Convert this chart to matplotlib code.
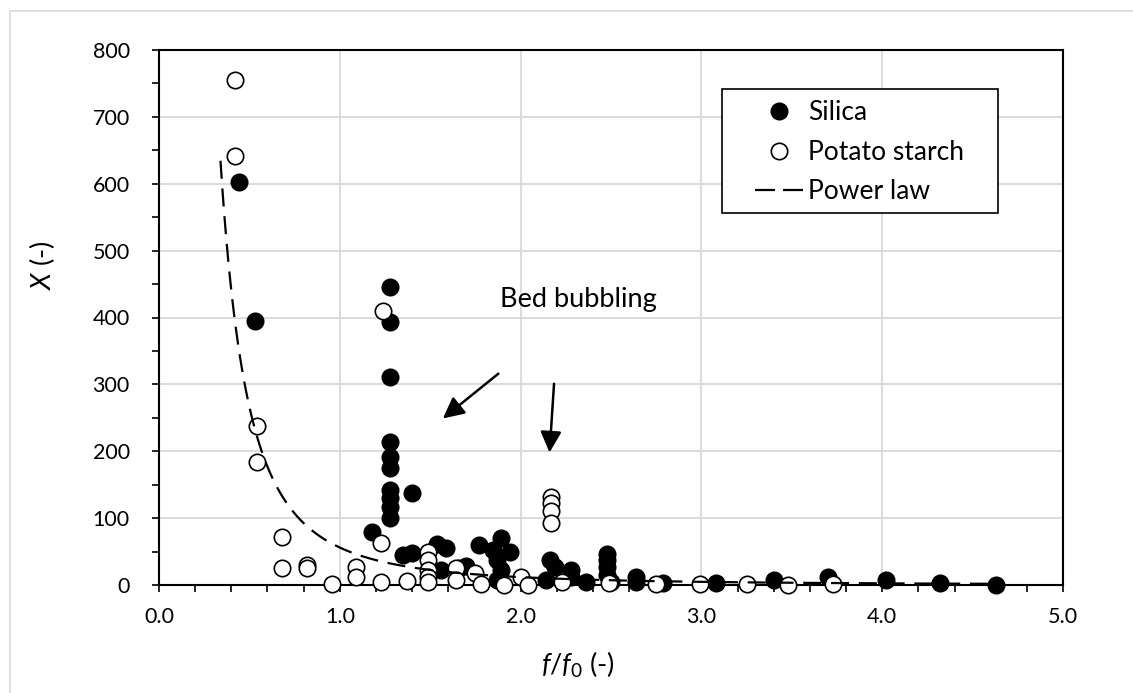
import matplotlib
matplotlib.use("Agg")
import matplotlib.pyplot as plt
import matplotlib.ticker as ticker
from matplotlib.lines import Line2D
from matplotlib.patches import Rectangle
import numpy as np

plt.rcParams['font.family'] = ['Lato', 'DejaVu Sans']
plt.rcParams['mathtext.fontset'] = 'custom'
plt.rcParams['mathtext.rm'] = 'Lato'
plt.rcParams['mathtext.it'] = 'Lato:italic'
plt.rcParams['lines.scale_dashes'] = False

# silica runs
silica_x = [0.44, 0.53,
            1.28, 1.28, 1.28, 1.28, 1.28, 1.28, 1.28, 1.28, 1.28, 1.28,
            1.40, 1.18, 1.35, 1.40,
            1.54, 1.59, 1.56, 1.66, 1.70,
            1.77, 1.89, 1.85, 1.94, 1.87, 1.89, 1.87,
            2.16, 2.19, 2.28, 2.14, 2.28, 2.36,
            2.48, 2.48, 2.48, 2.48, 2.50,
            2.64, 2.64, 2.79, 3.08, 3.40, 3.70, 4.02, 4.32, 4.63]
silica_y = [602, 395,
            446, 393, 311, 214, 192, 175, 142, 130, 117, 100,
            137, 80, 45, 48,
            62, 55, 22, 25, 28,
            60, 70, 52, 50, 37, 22, 7,
            37, 27, 22, 7, 12, 5,
            46, 38, 27, 15, 5,
            12, 5, 3, 3, 7, 12, 7, 3, 0]

# potato starch runs
starch_x = [0.42, 0.42, 0.54, 0.54, 0.68, 0.68, 0.82, 0.82, 0.955, 1.09, 1.09,
            1.24, 1.23, 1.23, 1.37,
            1.49, 1.49, 1.49, 1.49, 1.49,
            1.64, 1.64, 1.75, 1.78, 1.91, 2.00, 2.04,
            2.17, 2.17, 2.17, 2.17,
            2.23, 2.49, 2.75, 2.99, 3.25, 3.48, 3.73]
starch_y = [755, 642, 238, 184, 72, 26, 30, 25, 2, 27, 12,
            409, 63, 4, 6,
            50, 37, 22, 12, 5,
            25, 7, 18, 1, 0, 12, 0,
            132, 122, 110, 92,
            5, 3, 1, 1, 1, 0, 1]

# power law fit X = a * (f/f0)^b
fit_a = 56.0
fit_b = -2.25
fit_range = (0.34, 4.65)

W, H = 1133, 693
fig = plt.figure(figsize=(W / 100, H / 100), dpi=100)
ax = fig.add_axes([159 / W, 1 - 585 / H, (1063 - 159) / W, (585 - 50) / H])

ax.set_xlim(0, 5)
ax.set_ylim(0, 800)
ax.xaxis.set_major_locator(ticker.MultipleLocator(1))
ax.xaxis.set_minor_locator(ticker.MultipleLocator(0.2))
ax.yaxis.set_major_locator(ticker.MultipleLocator(100))
ax.yaxis.set_minor_locator(ticker.MultipleLocator(50))
ax.xaxis.set_major_formatter(ticker.FuncFormatter(lambda v, pos: '{:.1f}'.format(v)))
ax.tick_params(which='both', direction='out', length=5, width=1.2, color='black')
ax.tick_params(axis='x', labelsize=15.5, pad=11)
ax.tick_params(axis='y', labelsize=15.5, pad=16)
ax.set_axisbelow(True)
ax.grid(which='major', color='#d9d9d9', lw=1.3)
for s in ax.spines.values():
    s.set_linewidth(1.5)
    s.set_color('black')

ms = 11.8
ax.plot(silica_x, silica_y, 'o', ms=ms, mfc='black', mec='black', mew=1.2, clip_on=False, zorder=3)
ax.plot(starch_x, starch_y, 'o', ms=ms, mfc='white', mec='black', mew=1.2, clip_on=False, zorder=3)

xs = np.linspace(fit_range[0], fit_range[1], 400)
ax.plot(xs, fit_a * xs ** fit_b, color='black', lw=1.6, linestyle=(0, (13, 7)), zorder=4)

# bed bubbling arrows
arrow = dict(arrowstyle='-|>', color='black', lw=1.8, mutation_scale=32, shrinkA=0, shrinkB=0)
ax.annotate('', xy=(1.57, 249), xytext=(1.877, 316), arrowprops=arrow)
ax.annotate('', xy=(2.16, 198), xytext=(2.185, 301), arrowprops=arrow)
ax.text(2.32, 427, 'Bed bubbling', ha='center', va='center', fontsize=19.5)

# legend
ax.add_patch(Rectangle((0.6228, 0.6953), 0.3053, 0.2318, transform=ax.transAxes,
                       facecolor='white', edgecolor='black', lw=1.2, zorder=4))
handles = [
    Line2D([], [], marker='o', ls='none', ms=ms, mfc='black', mec='black', mew=1.2),
    Line2D([], [], marker='o', ls='none', ms=ms, mfc='white', mec='black', mew=1.2),
    Line2D([], [], color='black', lw=1.6, linestyle=(0, (14.4, 5.8))),
]
leg = ax.legend(handles, ['Silica', 'Potato starch', 'Power law'], loc='upper left',
                bbox_to_anchor=(0.6593, 0.906), frameon=False, fontsize=19,
                borderpad=0, borderaxespad=0, handlelength=1.82, handletextpad=0.2,
                labelspacing=0.55)
leg.set_zorder(5)

fig.text(42 / W, 1 - 265 / H, r'$X$ (-)', rotation=90, ha='center', va='center', fontsize=19.5)
fig.text(578 / W, 1 - 665 / H, r'$f/f_0$ (-)', ha='center', va='center', fontsize=19.5)

# chart border
fig.patches.append(Rectangle((10 / W, -0.1), 1.2, (H - 11) / H + 0.1, transform=fig.transFigure,
                             fill=False, edgecolor='#d9d9d9', lw=1.2))

fig.savefig('out.png', dpi=100)
